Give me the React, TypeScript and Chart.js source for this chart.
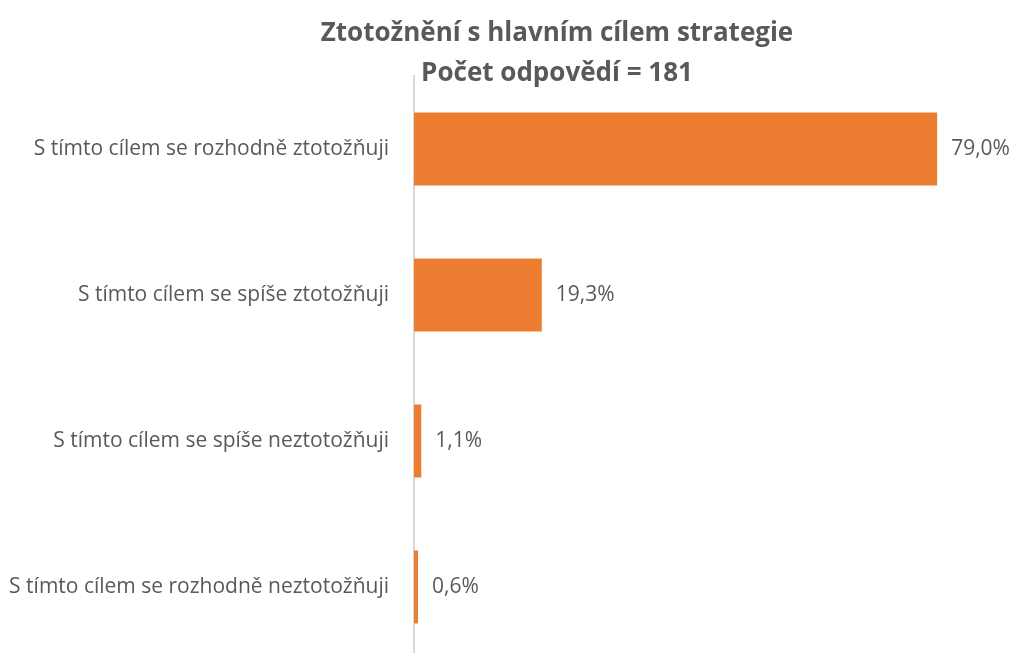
import React, { useEffect, useRef } from "react";
import { Chart, registerables } from "chart.js";

Chart.register(...registerables);

const categories: string[] = [
  "S tímto cílem se rozhodně ztotožňuji",
  "S tímto cílem se spíše ztotožňuji",
  "S tímto cílem se spíše neztotožňuji",
  "S tímto cílem se rozhodně neztotožňuji",
];
const values: number[] = [79.0, 19.3, 1.1, 0.6];
const titleLines: string[] = ["Ztotožnění s hlavním cílem strategie", "Počet odpovědí = 181"];

const FONT = "'Open Sans'";
const TEXT = "#595959";
const BAR = "#ED7D31";

const fmt = (v: number) => v.toFixed(1).replace(".", ",") + "%";

const valueLabels = {
  id: "valueLabels",
  afterDatasetsDraw(chart: any) {
    const ctx = chart.ctx;
    const meta = chart.getDatasetMeta(0);
    ctx.save();
    ctx.font = `21px ${FONT}`;
    ctx.fillStyle = TEXT;
    ctx.textAlign = "left";
    ctx.textBaseline = "middle";
    meta.data.forEach((bar: any, i: number) => {
      ctx.fillText(fmt(values[i]), bar.x + 14, bar.y);
    });
    ctx.restore();
  },
};

const titleDraw = {
  id: "titleDraw",
  afterDraw(chart: any) {
    const ctx = chart.ctx;
    ctx.save();
    ctx.font = `bold 26px ${FONT}`;
    ctx.fillStyle = TEXT;
    ctx.textAlign = "center";
    ctx.textBaseline = "alphabetic";
    const cx = 557;
    ctx.fillText(titleLines[0], cx, 41);
    ctx.fillText(titleLines[1], cx, 81);
    ctx.restore();
  },
};

export default function App() {
  const ref = useRef<HTMLCanvasElement>(null);
  useEffect(() => {
    if (!ref.current) return;
    const chart = new Chart(ref.current, {
      type: "bar",
      data: {
        labels: categories,
        datasets: [
          {
            data: values,
            backgroundColor: BAR,
            barPercentage: 0.5,
            categoryPercentage: 1,
          },
        ],
      },
      options: {
        indexAxis: "y",
        animation: false,
        responsive: true,
        maintainAspectRatio: false,
        layout: { padding: { left: 0, right: 6, top: 76, bottom: 2 } },
        plugins: {
          legend: { display: false },
          tooltip: { enabled: false },
          title: { display: false },
        },
        scales: {
          x: { display: false, min: 0, max: 90 },
          y: {
            afterFit(scale: any) {
              scale.width = 414;
              scale.paddingTop = 0;
              scale.paddingBottom = 0;
            },
            grid: { display: false },
            border: { display: true, color: "#d9d9d9", width: 2 },
            ticks: {
              color: TEXT,
              font: { family: FONT, size: 21 },
              padding: 17,
            },
          },
        },
      },
      plugins: [valueLabels, titleDraw],
    });
    return () => chart.destroy();
  }, []);
  return (
    <div style={{ position: "absolute", left: 0, top: 0, width: 1016, height: 653, overflow: "hidden", background: "#fff" }}>
      <div style={{ position: "relative", width: 1016, height: 662 }}>
        <canvas ref={ref} />
      </div>
    </div>
  );
}
